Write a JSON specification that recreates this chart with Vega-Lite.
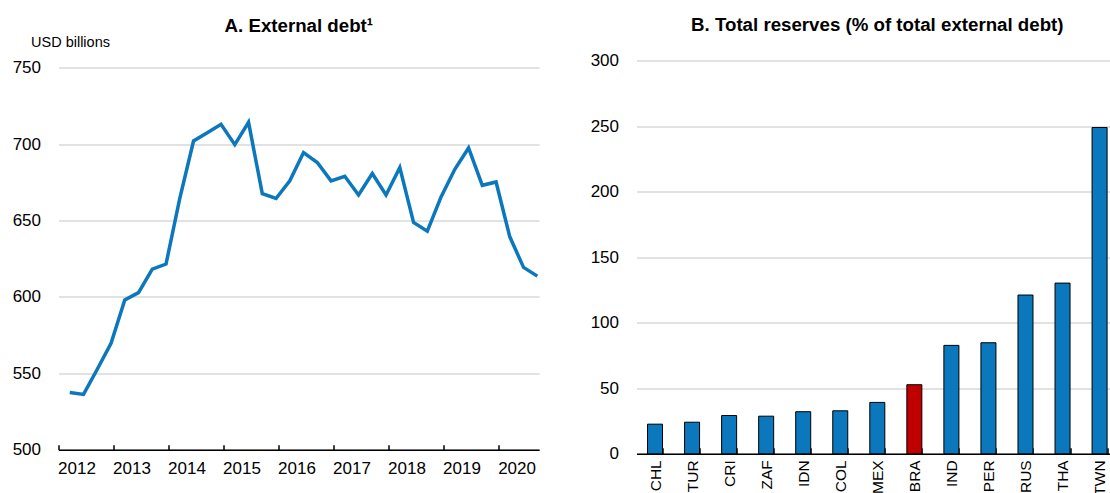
{
  "$schema": "https://vega.github.io/schema/vega-lite/v6.json",
  "background": "white",
  "padding": {"left": 11.5, "top": 15.5, "right": 0, "bottom": 0},
  "spacing": 45,
  "config": {
    "view": {"stroke": null},
    "font": "Liberation Sans",
    "title": {"font": "Liberation Sans", "fontSize": 18.7, "fontWeight": "bold", "color": "black", "anchor": "middle"},
    "axis": {
      "labelFont": "Liberation Sans",
      "labelFontSize": 17,
      "labelColor": "black",
      "gridColor": "#d9d9d9",
      "gridWidth": 1.5,
      "domainColor": "black",
      "tickColor": "black",
      "labelOverlap": false
    }
  },
  "hconcat": [
    {
      "width": 480.6,
      "height": 389.3,
      "title": {"text": "A. External debt¹", "offset": -1.5},
      "data": {"values": [
        {"quarter": "2012Q1", "t": 2012.205, "value": 537.5},
        {"quarter": "2012Q2", "t": 2012.455, "value": 536.2},
        {"quarter": "2012Q3", "t": 2012.705, "value": 552.7},
        {"quarter": "2012Q4", "t": 2012.955, "value": 569.7},
        {"quarter": "2013Q1", "t": 2013.205, "value": 598.0},
        {"quarter": "2013Q2", "t": 2013.455, "value": 602.8},
        {"quarter": "2013Q3", "t": 2013.705, "value": 618.2},
        {"quarter": "2013Q4", "t": 2013.955, "value": 621.5},
        {"quarter": "2014Q1", "t": 2014.205, "value": 664.4},
        {"quarter": "2014Q2", "t": 2014.455, "value": 702.0},
        {"quarter": "2014Q3", "t": 2014.705, "value": 707.4},
        {"quarter": "2014Q4", "t": 2014.955, "value": 712.9},
        {"quarter": "2015Q1", "t": 2015.205, "value": 699.6},
        {"quarter": "2015Q2", "t": 2015.455, "value": 714.2},
        {"quarter": "2015Q3", "t": 2015.705, "value": 667.6},
        {"quarter": "2015Q4", "t": 2015.955, "value": 664.4},
        {"quarter": "2016Q1", "t": 2016.205, "value": 675.9},
        {"quarter": "2016Q2", "t": 2016.455, "value": 694.4},
        {"quarter": "2016Q3", "t": 2016.705, "value": 687.9},
        {"quarter": "2016Q4", "t": 2016.955, "value": 675.9},
        {"quarter": "2017Q1", "t": 2017.205, "value": 678.9},
        {"quarter": "2017Q2", "t": 2017.455, "value": 666.7},
        {"quarter": "2017Q3", "t": 2017.705, "value": 680.7},
        {"quarter": "2017Q4", "t": 2017.955, "value": 666.7},
        {"quarter": "2018Q1", "t": 2018.205, "value": 684.6},
        {"quarter": "2018Q2", "t": 2018.455, "value": 648.7},
        {"quarter": "2018Q3", "t": 2018.705, "value": 643.0},
        {"quarter": "2018Q4", "t": 2018.955, "value": 665.4},
        {"quarter": "2019Q1", "t": 2019.205, "value": 683.5},
        {"quarter": "2019Q2", "t": 2019.455, "value": 697.4},
        {"quarter": "2019Q3", "t": 2019.705, "value": 673.0},
        {"quarter": "2019Q4", "t": 2019.955, "value": 675.2},
        {"quarter": "2020Q1", "t": 2020.205, "value": 639.3},
        {"quarter": "2020Q2", "t": 2020.455, "value": 619.3},
        {"quarter": "2020Q3", "t": 2020.705, "value": 613.6}
      ]},
      "mark": {"type": "line", "color": "#0B77BD", "strokeWidth": 3.5},
      "encoding": {
        "x": {
          "field": "t", "type": "quantitative",
          "scale": {"domain": [2012, 2020.7375], "nice": false, "zero": false},
          "axis": {
            "values": [2012, 2013, 2014, 2015, 2016, 2017, 2018, 2019, 2020],
            "format": "d", "title": null, "grid": false,
            "labelOffset": 18, "labelFlush": false,
            "tickSize": -5, "tickWidth": 1.5, "domainWidth": 1.5,
            "labelPadding": 15.5
          }
        },
        "y": {
          "field": "value", "type": "quantitative",
          "scale": {"domain": [500, 754.64], "nice": false, "zero": false},
          "axis": {
            "values": [500, 550, 600, 650, 700, 750],
            "title": "USD billions", "titleAngle": 0, "titleAlign": "left",
            "titleBaseline": "alphabetic", "titleX": -28, "titleY": -14.5,
            "titleFont": "Liberation Sans", "titleFontSize": 14.5,
            "titleFontWeight": "normal", "titleColor": "black",
            "domain": false, "ticks": false, "labelPadding": 18
          }
        }
      }
    },
    {
      "width": 481.6,
      "height": 393.3,
      "title": {"text": "B. Total reserves (% of total external debt)", "offset": 16.5},
      "data": {"values": [
        {"country": "CHL", "value": 22.6},
        {"country": "TUR", "value": 24.1},
        {"country": "CRI", "value": 29.2},
        {"country": "ZAF", "value": 28.7},
        {"country": "IDN", "value": 32.1},
        {"country": "COL", "value": 32.8},
        {"country": "MEX", "value": 39.2},
        {"country": "BRA", "value": 52.7},
        {"country": "IND", "value": 82.7},
        {"country": "PER", "value": 84.7},
        {"country": "RUS", "value": 121.1},
        {"country": "THA", "value": 130.2},
        {"country": "TWN", "value": 248.9}
      ]},
      "mark": {"type": "bar", "stroke": "black", "strokeWidth": 1},
      "encoding": {
        "x": {
          "field": "country", "type": "nominal", "sort": null,
          "scale": {"paddingInner": 0.595, "paddingOuter": 0.2975},
          "axis": {
            "title": null, "labelAngle": -90, "labelAlign": "right", "labelBaseline": "middle",
            "labelFontSize": 15.5,
            "tickBand": "extent", "tickSize": -6, "tickWidth": 1.5, "domainWidth": 1.5,
            "labelPadding": 12
          }
        },
        "y": {
          "field": "value", "type": "quantitative",
          "scale": {"domain": [0, 300], "nice": false},
          "axis": {
            "values": [0, 50, 100, 150, 200, 250, 300],
            "title": null, "domain": false, "ticks": false, "labelPadding": 18
          }
        },
        "color": {
          "condition": {"test": "datum.country === 'BRA'", "value": "#C00000"},
          "value": "#0B77BD"
        }
      }
    }
  ]
}
